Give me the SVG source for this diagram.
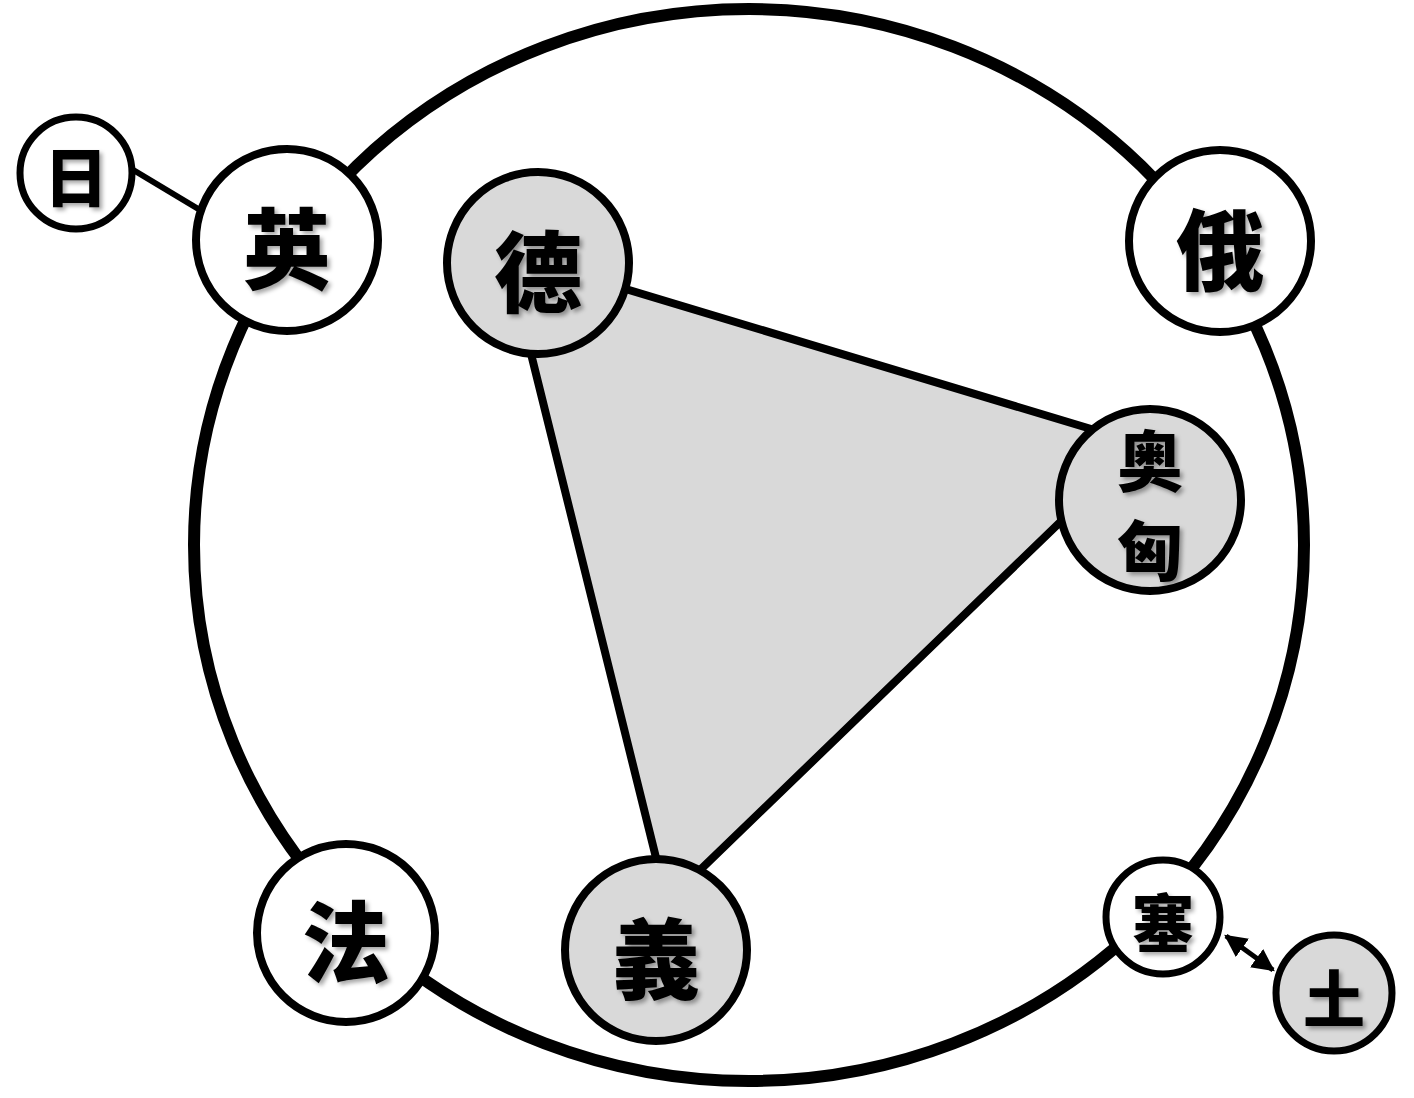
<svg xmlns="http://www.w3.org/2000/svg" width="1414" height="1098" viewBox="0 0 1414 1098">
<defs>
<filter id="sh" x="-20%" y="-20%" width="150%" height="150%">
<feDropShadow dx="3" dy="3" stdDeviation="2" flood-color="#000" flood-opacity="0.35"/>
</filter>
<marker id="ah" viewBox="0 0 10 10" refX="9" refY="5" markerWidth="4.5" markerHeight="4.5" orient="auto-start-reverse" markerUnits="strokeWidth">
<path d="M0,0 L10,5 L0,10 z" fill="#000"/>
</marker>
</defs>
<style>
.n{stroke:#000;stroke-width:8;fill:#fff}
.g{fill:#d9d9d9}
.s{stroke-width:7}
text{font-family:"Noto Sans CJK TC","Noto Sans CJK SC",sans-serif;font-weight:900;text-anchor:middle;dominant-baseline:central;fill:#000;filter:url(#sh)}
</style>
<rect width="1414" height="1098" fill="#fff"/>
<g id="connectors">
<ellipse cx="749" cy="545" rx="555" ry="536" fill="none" stroke="#000" stroke-width="12"/>
<polygon points="506,253 1141,444 667,902" fill="#d9d9d9" stroke="#000" stroke-width="8" stroke-linejoin="round"/>
<line x1="130" y1="168" x2="200" y2="210" stroke="#000" stroke-width="6"/>
<line x1="1226" y1="936" x2="1273" y2="970" stroke="#000" stroke-width="5" marker-start="url(#ah)" marker-end="url(#ah)"/>
</g>
<g id="node-ri"><circle class="n s" cx="76" cy="173" r="56"/><text x="76" y="173" font-size="64">日</text></g>
<g id="node-ying"><circle class="n" cx="287" cy="240" r="91"/><text x="287" y="243" font-size="88">英</text></g>
<g id="node-de"><circle class="n g" cx="538" cy="263" r="91"/><text x="538" y="266" font-size="88">德</text></g>
<g id="node-e"><circle class="n" cx="1220" cy="241" r="91"/><text x="1220" y="244" font-size="88">俄</text></g>
<g id="node-aoxiong"><circle class="n g" cx="1150" cy="500" r="91"/><text x="1150" y="457" font-size="66">奥</text><text x="1150" y="546" font-size="66">匈</text></g>
<g id="node-fa"><circle class="n" cx="346" cy="933" r="89"/><text x="346" y="936" font-size="88">法</text></g>
<g id="node-yi"><circle class="n g" cx="656" cy="950" r="91"/><text x="656" y="953" font-size="88">義</text></g>
<g id="node-sai"><circle class="n s" cx="1163" cy="917" r="57"/><text x="1163" y="920" font-size="62">塞</text></g>
<g id="node-tu"><circle class="n s g" cx="1334" cy="993" r="58"/><text x="1334" y="996" font-size="62">土</text></g>
</svg>
